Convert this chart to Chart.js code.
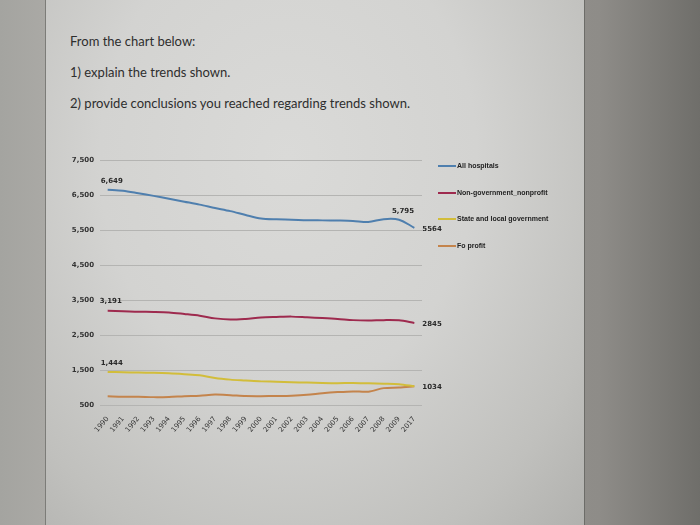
<!DOCTYPE html>
<html>
<head>
<meta charset="utf-8">
<script src="https://cdn.jsdelivr.net/npm/chart.js@4"></script>
<style>
  html, body { margin: 0; padding: 0; }
  body {
    width: 700px; height: 525px; overflow: hidden; position: relative;
    background: linear-gradient(90deg, #a4a4a0 0px, #aaa9a5 45px, #8e8c88 600px, #6f6e6a 700px);
    font-family: Lato, "Open Sans", sans-serif;
  }
  #page {
    position: absolute; left: 45px; top: 0; width: 538px; height: 525px;
    background: radial-gradient(ellipse at 45% 30%, #dadad8 0%, #d3d3d1 45%, #c0c0bd 80%, #b1b1ae 100%);
    border-left: 1px solid #7c7c78; border-right: 1px solid #6c6c68;
  }
  .q { position: absolute; left: 70px; font-size: 13px; color: #2e2e2e; white-space: nowrap; }
  #chartBox { position: absolute; left: 45px; top: 140px; width: 540px; height: 310px; }
  .leg { position: absolute; left: 438px; font-size: 7px; font-weight: bold; color: #222; white-space: nowrap;
         font-family: "Liberation Sans", Arial, sans-serif; }
  .leg span { display: inline-block; width: 18px; height: 2px; vertical-align: middle; margin-right: 1px; }
</style>
</head>
<body>
<div id="page"></div>
<div class="q" style="top:33px">From the chart below:</div>
<div class="q" style="top:64px">1) explain the trends shown.</div>
<div class="q" style="top:95px">2) provide conclusions you reached regarding trends shown.</div>

<div id="chartBox"><canvas id="c"></canvas></div>

<div class="leg" style="top:162px"><span style="background:#4f7fae"></span>All hospitals</div>
<div class="leg" style="top:189px"><span style="background:#9e2a4e"></span>Non-government_nonprofit</div>
<div class="leg" style="top:215px"><span style="background:#d2bd3a"></span>State and local government</div>
<div class="leg" style="top:242px"><span style="background:#c4844c"></span>Fo profit</div>

<script>
// Categories (years)
const years = ['1990','1991','1992','1993','1994','1995','1996','1997','1998','1999',
               '2000','2001','2002','2003','2004','2005','2006','2007','2008','2009','2017'];

// Series values
const allHospitals = [6649, 6620, 6550, 6475, 6395, 6310, 6225, 6130, 6040, 5930,
                      5830, 5805, 5795, 5780, 5775, 5770, 5760, 5730, 5810, 5795, 5564];
const nonGovNonprofit = [3191, 3180, 3165, 3160, 3145, 3100, 3050, 2975, 2940, 2960,
                         3000, 3015, 3025, 3005, 2985, 2960, 2925, 2915, 2925, 2918, 2845];
const stateLocalGov = [1444, 1435, 1428, 1420, 1405, 1380, 1350, 1270, 1225, 1200,
                       1175, 1165, 1150, 1140, 1130, 1125, 1130, 1120, 1110, 1095, 1034];
const forProfit = [749, 738, 737, 725, 730, 752, 765, 797, 780, 755,
                   752, 757, 766, 790, 835, 868, 889, 880, 982, 998, 1034];

// Y axis ticks
const yTicks = [500, 1500, 2500, 3500, 4500, 5500, 6500, 7500];

// Labels written beside some points: [dataset, index, text, position]
const pointLabels = [
    [0, 0, '6,649', 'above'],
    [0, 19, '5,795', 'above'],
    [0, 20, '5564', 'right'],
    [1, 0, '3,191', 'aboveLeft'],
    [1, 20, '2845', 'right'],
    [2, 0, '1,444', 'above'],
    [2, 20, '1034', 'right']
];

// Draw the data labels next to points
const pointLabelPlugin = {
    id: 'pointLabels',
    afterDatasetsDraw(chart) {
        const ctx = chart.ctx;
        ctx.save();
        ctx.font = "bold 7px 'DejaVu Sans', sans-serif";
        ctx.fillStyle = '#2a2a2a';
        pointLabels.forEach(([ds, idx, text, pos]) => {
            const pt = chart.getDatasetMeta(ds).data[idx];
            if (pos === 'right') {
                ctx.textAlign = 'left'; ctx.textBaseline = 'middle';
                ctx.fillText(text, pt.x + 8, pt.y + 1);
            } else if (pos === 'aboveLeft') {
                ctx.textAlign = 'left'; ctx.textBaseline = 'bottom';
                ctx.fillText(text, pt.x - 8, pt.y - 6);
            } else {
                ctx.textAlign = idx === 0 ? 'left' : 'center'; ctx.textBaseline = 'bottom';
                ctx.fillText(text, idx === 0 ? pt.x - 7 : pt.x + 4, pt.y - 5);
            }
        });
        ctx.restore();
    }
};

function line(label, data, color) {
    return {
        label: label,
        data: data,
        borderColor: color,
        backgroundColor: color,
        borderWidth: 2,
        pointRadius: 0,
        tension: 0.3,
        fill: false
    };
}

new Chart(document.getElementById('c'), {
    type: 'line',
    data: {
        labels: years,
        datasets: [
            line('All hospitals', allHospitals, '#4f7fae'),
            line('Non-government_nonprofit', nonGovNonprofit, '#9e2a4e'),
            line('State and local government', stateLocalGov, '#d2bd3a'),
            line('Fo profit', forProfit, '#c4844c')
        ]
    },
    options: {
        responsive: true,
        maintainAspectRatio: false,
        animation: false,
        layout: { padding: { top: 20, right: 163, left: 0, bottom: 0 } },
        plugins: {
            legend: { display: false },
            tooltip: { enabled: false }
        },
        scales: {
            x: {
                offset: true,
                grid: { display: false },
                border: { display: false },
                ticks: {
                    color: '#333',
                    font: { size: 7, family: "'DejaVu Sans', sans-serif" },
                    minRotation: 50,
                    maxRotation: 50,
                    autoSkip: false,
                    padding: 2
                },
                afterFit(scale) { scale.height = 45; }
            },
            y: {
                min: 500,
                max: 7500,
                afterBuildTicks(scale) { scale.ticks = yTicks.map(v => ({ value: v })); },
                grid: { color: '#b4b4b2', lineWidth: 1, drawTicks: false },
                border: { display: false },
                ticks: {
                    color: '#333',
                    font: { size: 7, weight: 'bold', family: "'DejaVu Sans', sans-serif" },
                    padding: 6,
                    callback: v => v.toLocaleString('en-US')
                },
                afterFit(scale) { scale.width = 55; }
            }
        }
    },
    plugins: [pointLabelPlugin]
});
</script>
</body>
</html>
